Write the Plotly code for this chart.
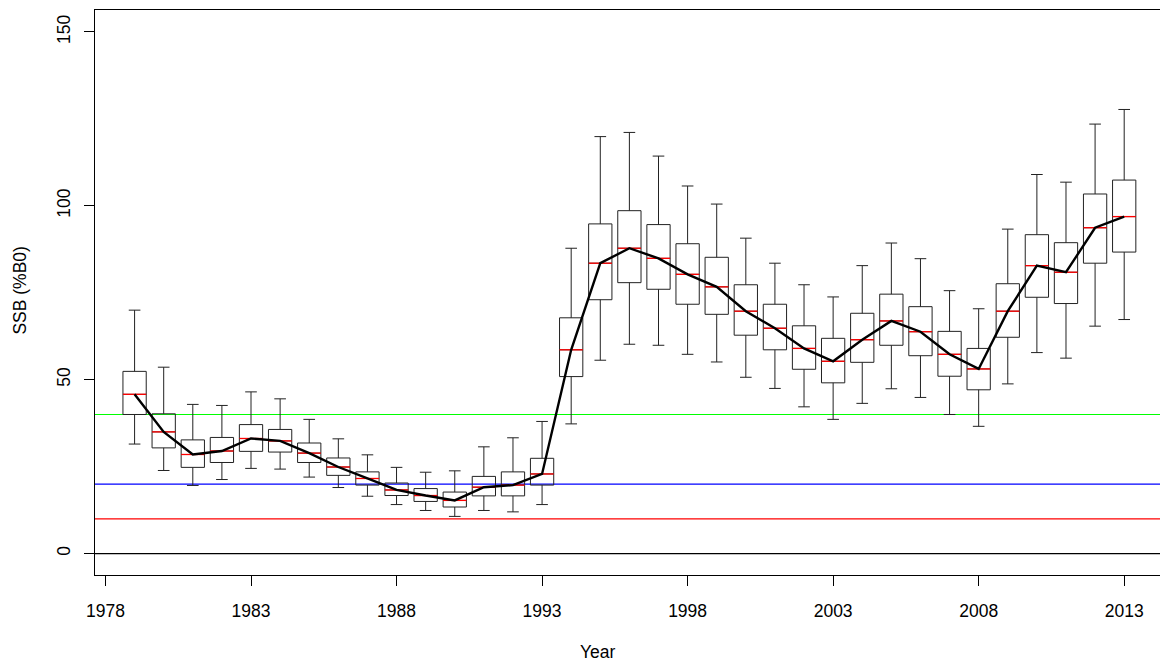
import plotly.graph_objects as go

years = list(range(1979, 2014))
lower = [31.5, 23.9, 19.6, 21.3, 24.5, 24.3, 22.0, 19.0, 16.5, 14.1, 12.4, 10.7, 12.4, 12.0, 14.1,
         37.3, 55.6, 60.2, 59.9, 57.3, 55.1, 50.7, 47.5, 42.2, 38.6, 43.2, 47.4, 44.9, 40.0, 36.6,
         48.8, 57.8, 56.2, 65.4, 67.3]
q1 = [40.0, 30.4, 24.8, 26.2, 29.4, 29.2, 26.2, 22.5, 19.7, 16.7, 15.0, 13.4, 16.6, 16.6, 19.7,
      50.9, 73.0, 77.9, 76.0, 71.7, 68.8, 62.8, 58.6, 53.0, 49.1, 55.0, 59.9, 56.9, 51.0, 47.1,
      62.2, 73.7, 71.9, 83.5, 86.7]
median = [45.8, 35.0, 28.5, 29.5, 33.1, 32.4, 28.9, 24.9, 21.6, 18.3, 16.7, 15.3, 19.1, 19.7, 22.9,
          58.6, 83.5, 87.8, 84.9, 80.3, 76.7, 69.7, 64.8, 59.0, 55.3, 61.5, 66.9, 63.8, 57.3, 53.1,
          69.7, 82.8, 80.9, 93.7, 96.9]
q3 = [52.4, 40.2, 32.7, 33.4, 37.1, 35.7, 31.8, 27.5, 23.5, 20.3, 18.7, 17.7, 22.2, 23.5, 27.4,
      67.8, 94.8, 98.6, 94.6, 89.1, 85.2, 77.3, 71.7, 65.5, 61.9, 69.1, 74.6, 71.0, 63.9, 59.0,
      77.6, 91.7, 89.4, 103.4, 107.4]
upper = [70.0, 53.6, 42.9, 42.6, 46.5, 44.5, 38.6, 33.0, 28.4, 24.8, 23.4, 23.8, 30.7, 33.3, 38.0,
         87.8, 119.9, 121.1, 114.3, 105.7, 100.5, 90.7, 83.5, 77.3, 73.8, 82.8, 89.3, 84.8, 75.6, 70.4,
         93.3, 109.0, 106.8, 123.5, 127.7]

ref_levels = [40, 20, 10, 0]
ref_colors = ["#00FF00", "#0000FF", "#FF0000", "#000000"]

x_ticks = [1978, 1983, 1988, 1993, 1998, 2003, 2008, 2013]
y_ticks = [0, 50, 100, 150]

BOX_W = 0.8
FONT = "Liberation Sans, Arial, Helvetica, sans-serif"
FS = 17.5

PL, PT, PB = 94.7, 9.7, 574.7  # plot area edges in page pixels
PW, PH = 1160 - PL, PB - PT

fig = go.Figure()

fig.add_trace(go.Box(
    x=years, q1=q1, median=median, q3=q3, lowerfence=lower, upperfence=upper,
    width=BOX_W, whiskerwidth=0.5, boxpoints=False,
    line=dict(color="#222222", width=1), fillcolor="rgba(0,0,0,0)",
    hoverinfo="skip", showlegend=False,
))

mx, my = [], []
for yr, m in zip(years, median):
    mx += [yr - BOX_W / 2, yr + BOX_W / 2, None]
    my += [m, m, None]
fig.add_trace(go.Scatter(x=mx, y=my, mode="lines", line=dict(color="#FF0000", width=1.3),
                         hoverinfo="skip", showlegend=False))

fig.add_trace(go.Scatter(x=years, y=median, mode="lines", line=dict(color="black", width=2.4),
                         hoverinfo="skip", showlegend=False))

for lv, col in zip(ref_levels, ref_colors):
    fig.add_shape(type="line", xref="paper", x0=0, x1=1, yref="y", y0=lv, y1=lv,
                  line=dict(color=col, width=1.2), layer="below")

fig.update_layout(
    width=1160, height=666,
    margin=dict(l=PL, r=0, t=PT, b=666 - PB, pad=0, autoexpand=False),
    paper_bgcolor="white", plot_bgcolor="white",
    font=dict(family=FONT, size=FS, color="black"),
    showlegend=False,
    xaxis=dict(range=[1977.64, 2014.23], tickvals=x_ticks, ticktext=[str(v) for v in x_ticks],
               showgrid=False, zeroline=False, showline=True, mirror=True, linecolor="black",
               linewidth=1, ticks="outside", ticklen=10, tickcolor="black",
               ticklabelstandoff=10, tickfont=dict(size=FS), automargin=False),
    yaxis=dict(range=[-6.15, 156.3], tickvals=y_ticks, ticktext=[str(v) for v in y_ticks],
               showgrid=False, zeroline=False, showline=True, mirror=False, linecolor="black",
               linewidth=1, ticks="outside", ticklen=10, tickcolor="black",
               tickangle=-90, ticklabelstandoff=7, tickfont=dict(size=FS), automargin=False),
    annotations=[
        dict(text="Year", xref="paper", yref="paper", x=(598 - PL) / PW, y=-(652 - PB) / PH,
             xanchor="center", yanchor="middle", showarrow=False, font=dict(size=FS)),
        dict(text="SSB (%B0)", xref="paper", yref="paper", x=-(PL - 20) / PW, y=(PB - 290) / PH,
             xanchor="center", yanchor="middle", textangle=-90, showarrow=False, font=dict(size=FS)),
    ],
)

fig.write_html(
    "out.html",
    config={"displayModeBar": False},
    post_script="document.body.style.margin='0';document.body.style.overflow='hidden';"
                "document.documentElement.style.overflow='hidden';",
)
